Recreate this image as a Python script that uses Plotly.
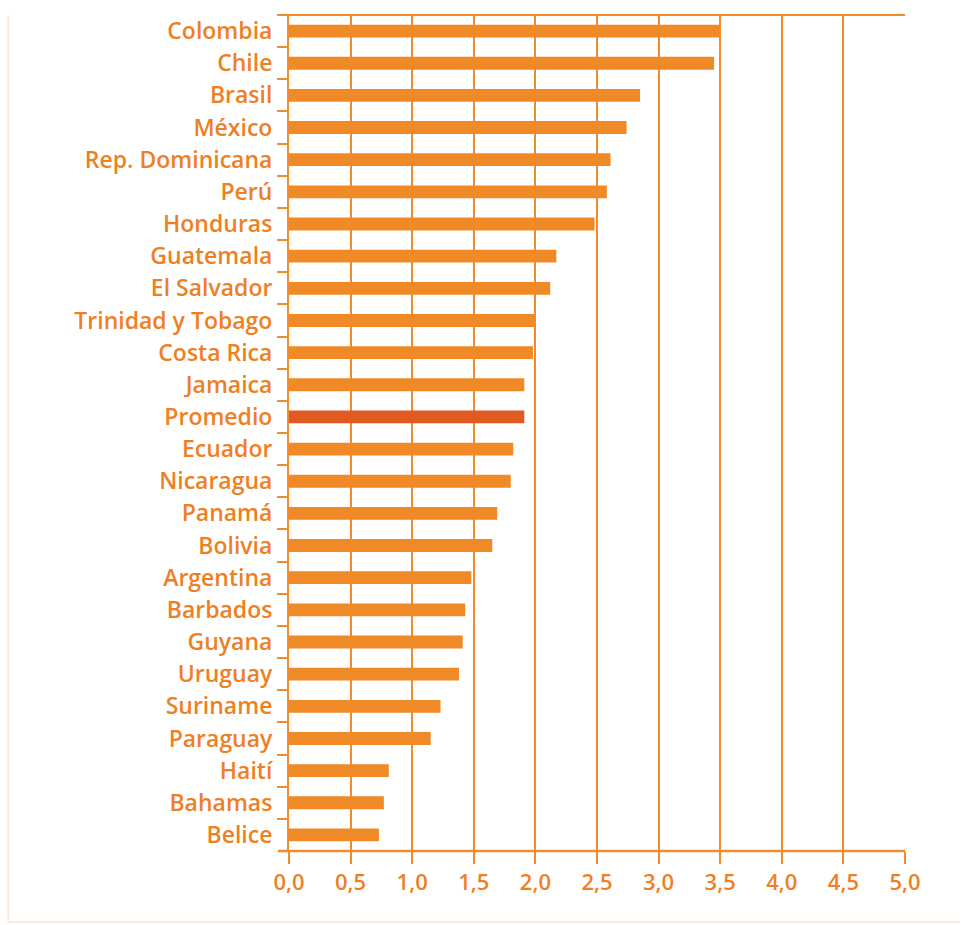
import plotly.graph_objects as go

# Países ordenados de mayor a menor valor
paises = [
    "Colombia", "Chile", "Brasil", "México", "Rep. Dominicana", "Perú",
    "Honduras", "Guatemala", "El Salvador", "Trinidad y Tobago", "Costa Rica",
    "Jamaica", "Promedio", "Ecuador", "Nicaragua", "Panamá", "Bolivia",
    "Argentina", "Barbados", "Guyana", "Uruguay", "Suriname", "Paraguay",
    "Haití", "Bahamas", "Belice",
]
valores = [
    3.50, 3.45, 2.85, 2.74, 2.61, 2.58,
    2.48, 2.17, 2.12, 2.00, 1.98,
    1.91, 1.91, 1.82, 1.80, 1.69, 1.65,
    1.48, 1.43, 1.41, 1.38, 1.23, 1.15,
    0.81, 0.77, 0.73,
]
ticks_x = [0, 0.5, 1.0, 1.5, 2.0, 2.5, 3.0, 3.5, 4.0, 4.5, 5.0]

NARANJA = "#F08A26"
PROMEDIO = "#E05A22"
TEXTO = "#EF7F24"
LINEA = "#F28B2E"
FUENTE = "Open Sans"

colores = [PROMEDIO if p == "Promedio" else NARANJA for p in paises]

fig = go.Figure(
    go.Bar(
        x=valores,
        y=paises,
        orientation="h",
        marker=dict(color=colores, line=dict(width=0)),
        hoverinfo="x+y",
    )
)

fig.update_layout(
    width=972,
    height=925,
    margin=dict(l=289, r=67, t=15, b=74),
    paper_bgcolor="white",
    plot_bgcolor="white",
    bargap=0.6,
    separators=",.",
    showlegend=False,
    font=dict(family=FUENTE, color=TEXTO),
    xaxis=dict(
        range=[0, 5],
        tickvals=ticks_x,
        tickformat=".1f",
        showgrid=True,
        gridcolor=LINEA,
        gridwidth=2,
        zeroline=False,
        showline=False,
        ticks="outside",
        ticklen=12,
        tickwidth=2,
        tickcolor=LINEA,
        tickfont=dict(size=22, color=TEXTO, family=FUENTE, weight=600),
        fixedrange=True,
    ),
    yaxis=dict(
        categoryorder="array",
        categoryarray=paises,
        autorange="reversed",
        showgrid=False,
        showline=True,
        linecolor=LINEA,
        linewidth=2,
        ticks="outside",
        tickson="boundaries",
        ticklen=10,
        tickwidth=2,
        tickcolor=LINEA,
        tickfont=dict(size=23, color=TEXTO, family=FUENTE, weight=600),
        ticklabelstandoff=10,
        fixedrange=True,
    ),
    shapes=[
        # borde superior y eje inferior, que sobresalen un poco a la izquierda
        dict(type="line", xref="paper", yref="paper", x0=-0.018, x1=1.0, y0=1.0, y1=1.0,
             line=dict(color=LINEA, width=2)),
        dict(type="line", xref="paper", yref="paper", x0=-0.018, x1=1.0, y0=0.0, y1=0.0,
             line=dict(color=LINEA, width=2.5)),
        # marco tenue alrededor de la figura
        dict(type="line", xref="paper", yref="paper", x0=-0.456, x1=-0.456, y0=-0.085, y1=1.0,
             line=dict(color="#FBE3D0", width=1.5)),
        dict(type="line", xref="paper", yref="paper", x0=-0.456, x1=1.09, y0=-0.085, y1=-0.085,
             line=dict(color="#FBE3D0", width=1.5)),
    ],
)

fig.write_html("out.html")
